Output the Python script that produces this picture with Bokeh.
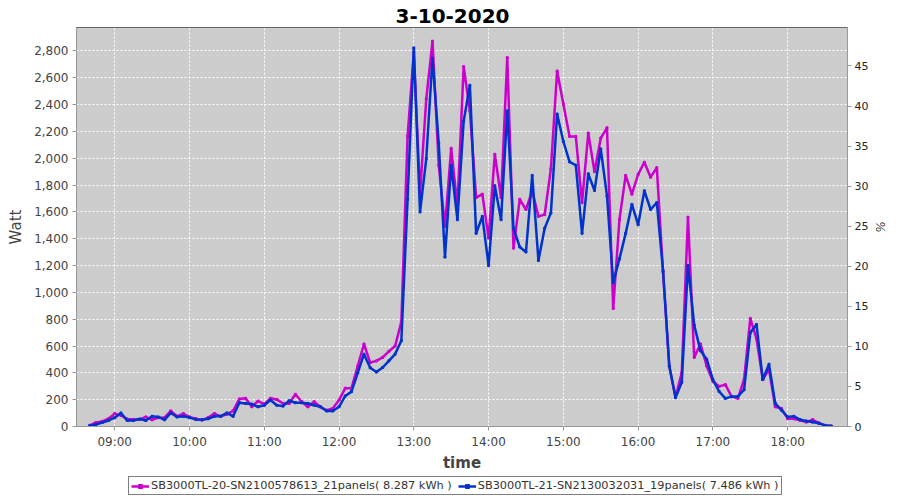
import pandas as pd
from bokeh.plotting import figure
from bokeh.layouts import column
from bokeh.models import (Range1d, LinearAxis, FixedTicker, DatetimeTickFormatter,
                          NumeralTickFormatter, Legend, LegendItem, SingleIntervalTicker)
from bokeh.embed import file_html
from bokeh.resources import INLINE

title_text = "3-10-2020"
day = "2020-10-03"
start_time = "08:40"
step = "5min"

name_a = "SB3000TL-20-SN2100578613_21panels( 8.287 kWh )"
name_b = "SB3000TL-21-SN2130032031_19panels( 7.486 kWh )"

watt_a = [8, 30, 38, 58,
          96, 83, 56, 53, 53, 71, 50, 66, 66, 116, 76, 96,
          71, 58, 48, 66, 96, 76, 91, 116, 205, 210, 147, 190,
          167, 210, 202, 172, 172, 240, 185, 147, 185, 147, 121, 134,
          197, 286, 286, 450, 615, 476, 489, 515, 560, 600, 780, 2163,
          2790, 1740, 2442, 2873, 1948, 1491, 2074, 1643, 2683, 2353, 1707, 1732,
          1405, 2030, 1707, 2750, 1330, 1694, 1618, 1757, 1567, 1580, 1922, 2650,
          2404, 2163, 2163, 1669, 2188, 1900, 2150, 2227, 880, 1542, 1872, 1732,
          1880, 1970, 1859, 1930, 1150, 450, 220, 400, 1560, 515, 616, 451,
          337, 299, 312, 223, 210, 350, 806, 654, 350, 426, 147, 134,
          58, 58, 46, 33, 51, 25, 8, 3]

watt_b = [5, 15, 30, 45,
          66, 101, 45, 45, 56, 45, 76, 71, 50, 101, 71, 76,
          66, 53, 50, 58, 76, 76, 101, 76, 177, 172, 167, 147,
          159, 197, 159, 152, 192, 177, 177, 172, 159, 147, 116, 116,
          147, 228, 260, 400, 539, 438, 406, 440, 490, 540, 640, 1694,
          2823, 1600, 1998, 2746, 2112, 1263, 1948, 1542, 2277, 2544, 1440, 1567,
          1200, 1795, 1542, 2353, 1478, 1339, 1301, 1872, 1238, 1478, 1593, 2330,
          2125, 1973, 1948, 1440, 1884, 1760, 2070, 1719, 1073, 1250, 1440, 1656,
          1504, 1757, 1618, 1669, 1161, 451, 215, 330, 1200, 756, 566, 502,
          350, 261, 210, 223, 223, 274, 700, 760, 350, 464, 172, 122,
          71, 76, 51, 41, 33, 25, 8, 3]

hour_ticks = ["09:00", "10:00", "11:00", "12:00", "13:00", "14:00", "15:00", "16:00", "17:00", "18:00"]

times = pd.date_range(f"{day} {start_time}", periods=len(watt_a), freq=step)

col_a = "#cc00cc"
col_b = "#0033cc"

x_start = pd.Timestamp(f"{day} 08:29:20")
x_end = pd.Timestamp(f"{day} 18:48:00")

p = figure(width=898, height=474, x_axis_type="datetime",
           x_range=Range1d(x_start, x_end), y_range=Range1d(0, 2975),
           output_backend="svg", toolbar_location=None,
           min_border_left=76, min_border_right=51, min_border_top=27, min_border_bottom=10)
p.extra_y_ranges = {"pct": Range1d(0, 49.8)}

p.title.text = title_text
p.title.align = "left"
p.title.text_font = "DejaVu Sans"
p.title.text_font_size = "20px"
p.title.text_font_style = "bold"
p.title.text_color = "#000000"
p.title.offset = 319

p.background_fill_color = "#cccccc"
p.border_fill_color = "white"
p.outline_line_color = "#666666"
p.outline_line_width = 1

for g in (p.xgrid[0], p.ygrid[0]):
    g.grid_line_color = "white"
    g.grid_line_dash = "2 2"
    g.grid_line_width = 1

p.line(times, watt_a, color=col_a, line_width=2.5)
p.scatter(times, watt_a, color=col_a, size=2, marker="square")
p.line(times, watt_b, color=col_b, line_width=2.5)
p.scatter(times, watt_b, color=col_b, size=2, marker="square")

tick_ms = [pd.Timestamp(f"{day} {h}").value // 10**6 for h in hour_ticks]
p.xaxis.ticker = FixedTicker(ticks=tick_ms)
p.xaxis.formatter = DatetimeTickFormatter(hours="%H:%M", minutes="%H:%M", hourmin="%H:%M",
                                          days="%H:%M", minsec="%H:%M")
p.xaxis.axis_label = "time"
p.xaxis.axis_label_text_font_style = "bold"

p.yaxis.ticker = SingleIntervalTicker(interval=200)
p.yaxis.formatter = NumeralTickFormatter(format="0,0")
p.yaxis.axis_label = "Watt"
p.yaxis.axis_label_text_font_style = "normal"

pct_axis = LinearAxis(y_range_name="pct", axis_label="%", ticker=SingleIntervalTicker(interval=5))
p.add_layout(pct_axis, "right")

for ax in p.axis:
    ax.axis_line_color = "#999999"
    ax.major_tick_line_color = "#999999"
    ax.minor_tick_line_color = None
    ax.major_tick_out = 4
    ax.major_tick_in = 0
    ax.major_label_text_font = "DejaVu Sans"
    ax.major_label_text_font_size = "12px"
    ax.major_label_text_color = "#444444"
    ax.major_label_standoff = 4
    ax.axis_label_text_font = "DejaVu Sans"
    ax.axis_label_text_font_size = "15px"
    ax.axis_label_text_color = "#444444"
    ax.axis_label_standoff = 6
pct_axis.major_label_text_font_size = "11px"
pct_axis.axis_label_text_font_size = "12px"
pct_axis.major_label_text_color = "#222222"
pct_axis.major_label_standoff = 3
pct_axis.axis_label_standoff = 2
p.xaxis.axis_label_standoff = 2
p.xaxis.major_label_standoff = 4

# separate strip holding the legend below the chart
lg = figure(width=898, height=24, x_range=Range1d(0, 1), y_range=Range1d(0, 1),
            output_backend="svg", toolbar_location=None,
            min_border=0, min_border_left=0, min_border_right=0,
            min_border_top=0, min_border_bottom=0)
lg.axis.visible = False
lg.grid.visible = False
lg.outline_line_color = None
lg.background_fill_color = "white"
lg.border_fill_color = "white"
# legend swatches only: one point placed outside the strip's visible range
la = lg.line([-5, -4], [-5, -5], color=col_a, line_width=2.5)
lma = lg.scatter([-5], [-5], color=col_a, size=4, marker="square")
lb = lg.line([-5, -4], [-5, -5], color=col_b, line_width=2.5)
lmb = lg.scatter([-5], [-5], color=col_b, size=4, marker="square")

legend = Legend(items=[LegendItem(label=name_a, renderers=[la, lma]),
                       LegendItem(label=name_b, renderers=[lb, lmb])],
                orientation="horizontal", location=(52, 3))
legend.border_line_color = "black"
legend.border_line_width = 1
legend.background_fill_color = "white"
legend.label_text_font = "DejaVu Sans"
legend.label_text_font_size = "11.3px"
legend.label_text_color = "#333333"
legend.glyph_width = 18
legend.glyph_height = 10
legend.padding = 2
legend.spacing = 6
legend.margin = 0
legend.label_standoff = 2
legend.label_height = 12
lg.add_layout(legend, "center")

layout = column(p, lg, spacing=0)

open("out.html", "w").write(file_html(layout, INLINE))
